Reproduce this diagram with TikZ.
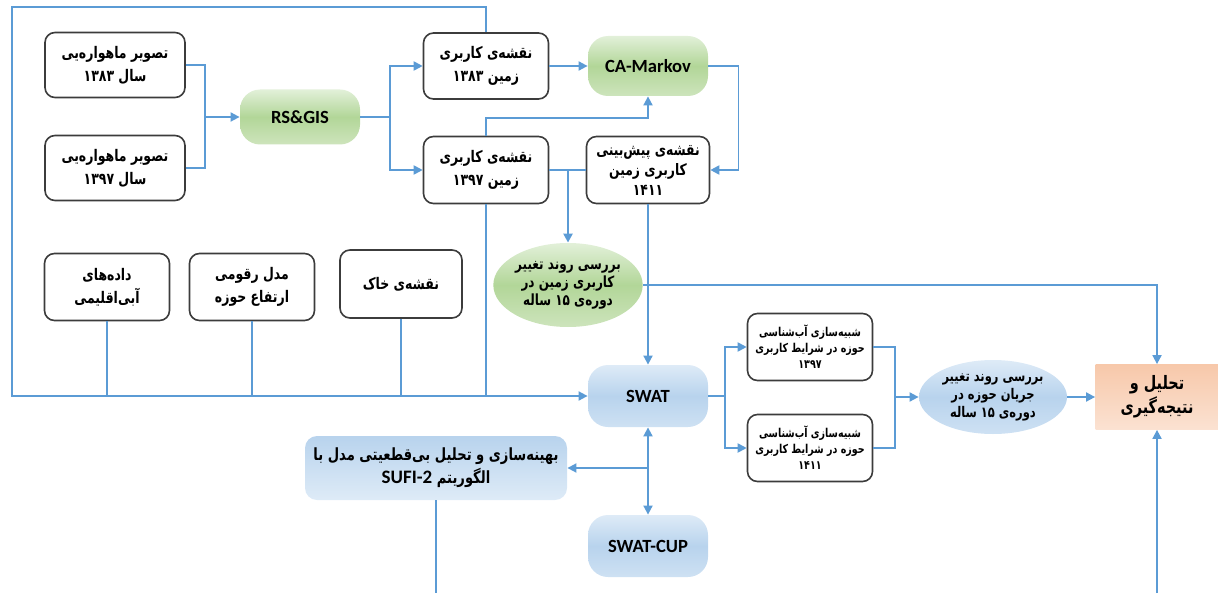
\documentclass[tikz,border=0pt]{standalone}
\usepackage{fontspec}
\usetikzlibrary{shapes.geometric,arrows.meta}
\TeXXeTstate=1
\newfontfamily\fa[Script=Arabic,FakeStretch=0.78]{DejaVu Sans}
\newfontfamily\lat{Carlito}
\newcommand{\rl}[1]{\beginR #1\endR}
\definecolor{linecol}{RGB}{91,155,213}
\definecolor{boxgray}{RGB}{60,60,60}
\definecolor{gtop}{RGB}{226,240,217}
\definecolor{gmid}{RGB}{178,214,152}
\definecolor{gbot}{RGB}{205,228,188}
\definecolor{btop}{RGB}{222,235,247}
\definecolor{bmid}{RGB}{184,211,237}
\definecolor{bbot}{RGB}{206,225,243}
\definecolor{otop}{RGB}{247,200,170}
\definecolor{obot}{RGB}{251,226,210}

\begin{document}
\begin{tikzpicture}[x=0.5pt, y=-0.5pt,
  line/.style={draw=linecol, line width=0.9pt},
  arr/.style={line, -{Triangle[length=4.5pt,width=4.5pt]}},
  darr/.style={line, {Triangle[length=4.5pt,width=4.5pt]}-{Triangle[length=4.5pt,width=4.5pt]}},
  inbox/.style={rectangle, rounded corners=5pt, draw=boxgray, line width=0.8pt, fill=white,
    align=center, inner sep=1pt, font=\fa\bfseries\fontsize{8}{11.5}\selectfont},
  smallbox/.style={inbox, font=\fa\bfseries\fontsize{6.1}{8}\selectfont},
  greenpill/.style={rectangle, rounded corners=10pt, top color=gtop, bottom color=gbot, middle color=gmid,
    font=\lat\bfseries\fontsize{9.3}{11}\selectfont, inner sep=1pt},
  bluepill/.style={greenpill, top color=btop, bottom color=bbot, middle color=bmid},
  greenoval/.style={ellipse, inner sep=0pt, top color=gtop, bottom color=gbot, middle color=gmid,
    align=center, font=\fa\bfseries\fontsize{7.7}{9}\selectfont},
  blueoval/.style={greenoval, top color=btop, bottom color=bbot, middle color=bmid,
    font=\fa\bfseries\fontsize{7.35}{9}\selectfont},
  bluebox/.style={rectangle, rounded corners=6pt, top color=bmid, bottom color=btop, align=center,
    inner sep=1pt, font=\fa\bfseries\fontsize{8.4}{11.5}\selectfont},
  resultbox/.style={rectangle, top color=otop, bottom color=obot, align=center, inner sep=1pt,
    font=\fa\bfseries\fontsize{9.25}{12}\selectfont}]
\useasboundingbox (0,0) rectangle (1218,593);

\node[inbox, minimum width=70pt, minimum height=32.5pt] (img83) at (115,65) {\rl{تصویر ماهواره‌یی}\\\rl{سال ۱۳۸۳}};
\node[inbox, minimum width=70pt, minimum height=32.5pt] (img97) at (115,168) {\rl{تصویر ماهواره‌یی}\\\rl{سال ۱۳۹۷}};
\node[greenpill, minimum width=60pt, minimum height=27.5pt] (rsgis) at (300,117) {RS\&GIS};
\node[inbox, minimum width=62.5pt, minimum height=33pt] (lu83) at (486,66) {\rl{نقشه‌ی کاربری}\\\rl{زمین ۱۳۸۳}};
\node[inbox, minimum width=62.5pt, minimum height=33.5pt] (lu97) at (486,170) {\rl{نقشه‌ی کاربری}\\\rl{زمین ۱۳۹۷}};
\node[greenpill, minimum width=60pt, minimum height=30pt] (camarkov) at (648,66) {CA-Markov};
\node[inbox, minimum width=61.5pt, minimum height=33.5pt, font=\fa\bfseries\fontsize{7.9}{10}\selectfont] (pred) at (648,170) {\rl{نقشه‌ی پیش‌بینی}\\\rl{کاربری زمین}\\\rl{۱۴۱۱}};
\node[greenoval, minimum width=73.5pt, minimum height=42pt] (lutrend) at (568,285) {\rl{بررسی روند تغییر}\\\rl{کاربری زمین در}\\\rl{دوره‌ی ۱۵ ساله}};
\node[inbox, minimum width=62.5pt, minimum height=33.5pt] (climate) at (107,287) {\rl{داده‌های}\\\rl{آبی‌اقلیمی}};
\node[inbox, minimum width=62.5pt, minimum height=33.5pt] (dem) at (252,287) {\rl{مدل رقومی}\\\rl{ارتفاع حوزه}};
\node[inbox, minimum width=61pt, minimum height=34pt] (soil) at (401,284) {\rl{نقشه‌ی خاک}};
\node[bluepill, minimum width=60pt, minimum height=31pt] (swat) at (648,396) {SWAT};
\node[smallbox, minimum width=62.5pt, minimum height=33.5pt] (sim97) at (810,347) {\rl{شبیه‌سازی آب‌شناسی}\\\rl{حوزه در شرایط کاربری}\\\rl{۱۳۹۷}};
\node[smallbox, minimum width=62.5pt, minimum height=33.5pt] (sim11) at (810,448) {\rl{شبیه‌سازی آب‌شناسی}\\\rl{حوزه در شرایط کاربری}\\\rl{۱۴۱۱}};
\node[blueoval, minimum width=74pt, minimum height=37pt] (flow) at (993,397) {\rl{بررسی روند تغییر}\\\rl{جریان حوزه در}\\\rl{دوره‌ی ۱۵ ساله}};
\node[resultbox, minimum width=61.5pt, minimum height=32.5pt] (tahlil) at (1157,397) {\rl{تحلیل و}\\\rl{نتیجه‌گیری}};
\node[bluebox, minimum width=131pt, minimum height=32pt] (sufi) at (436,468) {\rl{بهینه‌سازی و تحلیل بی‌قطعیتی مدل با}\\\rl{الگوریتم \beginL{\lat\bfseries\fontsize{9.5}{11.5}\selectfont SUFI-2}\endL}};
\node[bluepill, minimum width=60pt, minimum height=31pt] (swatcup) at (648,546) {SWAT-CUP};

\coordinate (tl) at (12,7);
\coordinate (bl) at (12,396);
\coordinate (jA) at (205,117);
\coordinate (jB) at (390,117);
\coordinate (jC) at (648,118);
\coordinate (jD) at (568,170);
\coordinate (jE) at (725,396);
\coordinate (jF) at (895,397);
\coordinate (jG) at (648,468);
\coordinate (sufiend) at (436,593);
\coordinate (tahend) at (1157,593);

\draw[arr] (lu83.north) |- (tl) -- (bl) -- (swat.west);
\draw[line] (lu97.south) -- (lu97.south |- swat.west);
\draw[line] (climate.south) -- (climate.south |- swat.west);
\draw[line] (dem.south) -- (dem.south |- swat.west);
\draw[line] (soil.south) -- (soil.south |- swat.west);
\draw[line] (img83.east) -| (jA);
\draw[line] (img97.east) -| (jA);
\draw[arr] (jA) -- (rsgis.west);
\draw[line] (rsgis.east) -- (jB);
\draw[arr] (jB) |- (lu83.west);
\draw[arr] (jB) |- (lu97.west);
\draw[arr] (lu83.east) -- (camarkov.west);
\draw[arr] (camarkov.east) -- ++(30,0) |- (pred.east);
\draw[arr] (lu97.north) |- (jC) -- (camarkov.south);
\draw[line] (lu97.east) -- (pred.west);
\draw[arr, line width=1.4pt] (jD) -- (lutrend.north);
\draw[arr] (pred.south) -- (swat.north);
\draw[arr] (lutrend.east) -| (tahlil.north);
\draw[line] (swat.east) -- (jE);
\draw[arr] (jE) |- (sim97.west);
\draw[arr] (jE) |- (sim11.west);
\draw[line] (sim97.east) -| (jF);
\draw[line] (sim11.east) -| (jF);
\draw[arr] (jF) -- (flow.west);
\draw[arr] (flow.east) -- (tahlil.west);
\draw[darr] (swat.south) -- (swatcup.north);
\draw[arr] (jG) -- (sufi.east);
\draw[line] (sufi.south) -- (sufiend);
\draw[arr] (tahend) -- (tahlil.south);
\end{tikzpicture}
\end{document}
